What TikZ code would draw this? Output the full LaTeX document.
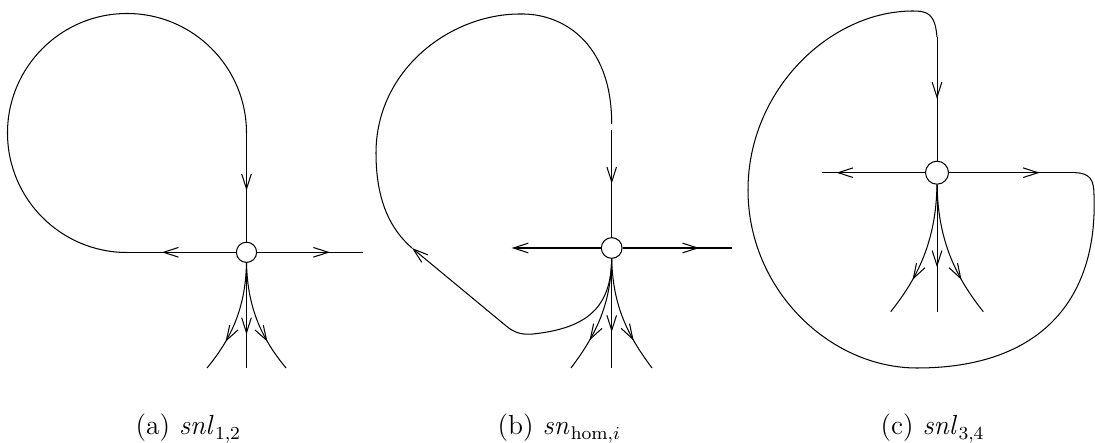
\documentclass[tikz,border=0pt]{standalone}
\usetikzlibrary{arrows.meta,decorations.markings}

\tikzset{
	saddle/.style={draw, circle, fill=white, inner sep=0pt, minimum size=#1},
	saddle/.default=8.8pt,
	midarrow/.style={decoration={markings, mark=at position #1 with {\arrow{>}}}, postaction={decorate}},
	caption/.style={anchor=base west, inner sep=0pt, font=\large}
}

\begin{document}
\begin{tikzpicture}[x=0.435pt, y=-0.435pt, line width=0.45pt, >={Straight Barb[length=6.5pt,width=4.2pt]}]
		\useasboundingbox (0,0) rectangle (1095,443);
		
		% (a) snl 1,2
		\node[saddle] (sa) at (246.5,252.3) {};
		\coordinate (ta) at (246.5,133);
		\coordinate (la) at (127,252.3);
		\coordinate (ra) at (362.7,252.3);
		\coordinate (da) at (246.5,368);
		\draw (ta) arc[start angle=0, end angle=-270, radius=119.5];
		\draw[midarrow=0.53] (ta) -- (sa.north);
		\draw[midarrow=0.68] (sa.west) -- (la);
		\draw[midarrow=0.69] (sa.east) -- (ra);
		\draw[midarrow=0.68] (sa.south) -- (da);
		\draw[midarrow=0.72] (sa.south) .. controls (245.5,310) and (230,340) .. (207,368);
		\draw[midarrow=0.72] (sa.south) .. controls (247.5,310) and (263,340) .. (286,368);
		
		% (b) sn hom,i
		\node[saddle=9pt] (sb) at (611.7,248) {};
		\coordinate (tb) at (611.7,130);
		\coordinate (lb) at (511.7,248);
		\coordinate (rb) at (732,248);
		\coordinate (db) at (611.7,368);
		\coordinate (hb) at (412,248);
		\coordinate (kb) at (505,325);
		\draw[midarrow=0.5] (tb) -- (sb.north);
		\draw[->] (sb.west) -- (lb);
		\draw[midarrow=0.7] (sb.east) -- (rb);
		\draw[midarrow=0.67] (sb.south) -- (db);
		\draw[midarrow=0.72] (sb.south) .. controls (610.7,306) and (595,336) .. (571,368);
		\draw[midarrow=0.72] (sb.south) .. controls (612.7,306) and (628,336) .. (652,368);
		\draw (sb.south) .. controls (611,305) and (590,328) .. (533,334)
			.. controls (522,335) and (514,333) .. (kb);
		\draw[->] (kb) -- (hb);
		\draw (hb) .. controls (390,229) and (376,200) .. (376,153)
			.. controls (376,70) and (450,14) .. (520,14)
			.. controls (560,13) and (611.7,40) .. (611.7,124);
		
		% (c) snl 3,4
		\node[saddle=10pt] (sc) at (937,172.7) {};
		\coordinate (tc) at (937,37);
		\coordinate (lc) at (822,172.7);
		\coordinate (rc) at (1075,172.7);
		\coordinate (dc) at (937,311.7);
		\draw[midarrow=0.5] (tc) -- (sc.north);
		\draw[midarrow=0.86] (sc.west) -- (lc);
		\draw[midarrow=0.72] (sc.east) -- (rc);
		\draw[midarrow=0.65] (sc.south) -- (dc);
		\draw[midarrow=0.72] (sc.south) .. controls (936,241.7) and (917.5,278) .. (890.7,311.7);
		\draw[midarrow=0.72] (sc.south) .. controls (938,241.7) and (956.5,278) .. (983.3,311.7);
		\draw (rc) .. controls (1090,173) and (1094,180) .. (1094,195)
			.. controls (1098,300) and (1040,368) .. (917,368)
			.. controls (830,368) and (748,290) .. (748,190)
			.. controls (748,90) and (830,11) .. (913,11)
			.. controls (928,11) and (935,14) .. (tc);
		
		% captions
		\node[caption] (capa) at (135,435) {(a) $\mathit{snl}_{1,2}$};
		\node[caption] (capb) at (497,435) {(b) $\mathit{sn}_{\mathrm{hom},i}$};
		\node[caption] (capc) at (880,435) {(c) $\mathit{snl}_{3,4}$};
	\end{tikzpicture}
\end{document}
